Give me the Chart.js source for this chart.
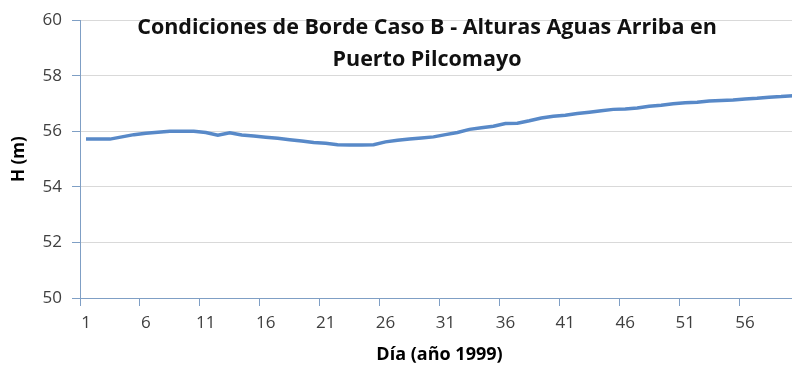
<!DOCTYPE html>
<html>
<head>
<meta charset="utf-8">
<script src="https://cdn.jsdelivr.net/npm/chart.js@4"></script>
<style>
  html, body { margin: 0; padding: 0; background: #ffffff; overflow: hidden; }
  #wrap { width: 800px; height: 372px; }
</style>
</head>
<body>
<div id="wrap"><canvas id="c" width="800" height="372"></canvas></div>
<script>
// Day of the period (1999)
const days = [
  '1','2','3','4','5','6','7','8','9','10',
  '11','12','13','14','15','16','17','18','19','20',
  '21','22','23','24','25','26','27','28','29','30',
  '31','32','33','34','35','36','37','38','39','40',
  '41','42','43','44','45','46','47','48','49','50',
  '51','52','53','54','55','56','57','58','59','60'
];

// Upstream water level H (m) at Puerto Pilcomayo
const heights = [
  55.72, 55.72, 55.72, 55.80, 55.88, 55.93, 55.97, 56.00, 56.00, 56.00,
  55.96, 55.86, 55.95, 55.87, 55.83, 55.79, 55.75, 55.70, 55.65, 55.60,
  55.57, 55.52, 55.51, 55.51, 55.52, 55.62, 55.68, 55.72, 55.76, 55.80,
  55.88, 55.96, 56.07, 56.13, 56.18, 56.28, 56.29, 56.38, 56.48, 56.54,
  56.58, 56.64, 56.69, 56.74, 56.79, 56.80, 56.84, 56.90, 56.94, 56.99,
  57.03, 57.05, 57.09, 57.11, 57.13, 57.16, 57.19, 57.23, 57.25, 57.28
];

const yTicks = [50, 52, 54, 56, 58, 60];
const labelEvery = 5;

const titleLines = ['Condiciones de Borde Caso B - Alturas Aguas Arriba en', 'Puerto Pilcomayo'];
const xTitle = 'Día (año 1999)';
const yTitle = 'H (m)';

const AXIS = '#7f9fc5';
const GRID = '#d9d9d9';
const TICK_TEXT = '#404040';
const FONT = '"Open Sans", Lato, sans-serif';

// Chart title drawn over the plot area
const overlayTitle = {
  id: 'overlayTitle',
  afterDraw(chart, args, opts) {
    const ctx = chart.ctx;
    ctx.save();
    ctx.font = opts.font;
    ctx.fillStyle = opts.color;
    ctx.textAlign = 'center';
    ctx.textBaseline = 'middle';
    opts.lines.forEach((t, i) => ctx.fillText(t, opts.x, opts.y + i * opts.gap));
    ctx.restore();
  }
};

new Chart(document.getElementById('c'), {
  type: 'line',
  data: {
    labels: days,
    datasets: [{
      data: heights,
      borderColor: '#5889c8',
      borderWidth: 3.5,
      pointRadius: 0,
      tension: 0,
      fill: false
    }]
  },
  options: {
    responsive: false,
    animation: false,
    layout: { padding: { left: 0, top: 19, right: 0, bottom: 0 } },
    plugins: {
      legend: { display: false },
      tooltip: { enabled: false },
      overlayTitle: {
        lines: titleLines,
        x: 427,
        y: 28,
        gap: 32,
        font: 'bold 21.5px ' + FONT,
        color: '#111111'
      }
    },
    scales: {
      x: {
        type: 'category',
        offset: true,
        grid: {
          display: true,
          offset: true,
          drawOnChartArea: false,
          drawTicks: true,
          tickLength: 8,
          tickColor: (c) => (c.index % labelEvery === 0 ? AXIS : 'rgba(0,0,0,0)')
        },
        border: { color: AXIS, width: 1 },
        ticks: {
          autoSkip: false,
          maxRotation: 0,
          padding: 7,
          color: TICK_TEXT,
          font: { family: FONT, size: 17 },
          callback: (v, i) => (i % labelEvery === 0 ? days[i] : '')
        },
        title: {
          display: true,
          text: xTitle,
          color: '#000000',
          font: { family: FONT, size: 18, weight: 'bold' },
          padding: { top: 0, bottom: 6 }
        },
        afterFit: (s) => { s.height = 74; }
      },
      y: {
        min: 50,
        max: 60,
        afterBuildTicks: (s) => { s.ticks = yTicks.map(v => ({ value: v })); },
        grid: {
          color: GRID,
          tickColor: AXIS,
          drawTicks: true,
          tickLength: 8
        },
        border: { color: AXIS, width: 1 },
        ticks: {
          padding: 10,
          color: TICK_TEXT,
          font: { family: FONT, size: 17 }
        },
        title: {
          display: true,
          text: yTitle,
          color: '#000000',
          font: { family: FONT, size: 17, weight: 'bold' },
          padding: { top: 9, bottom: 0 }
        },
        afterFit: (s) => { s.width = 80; }
      }
    }
  },
  plugins: [overlayTitle]
});
</script>
</body>
</html>
